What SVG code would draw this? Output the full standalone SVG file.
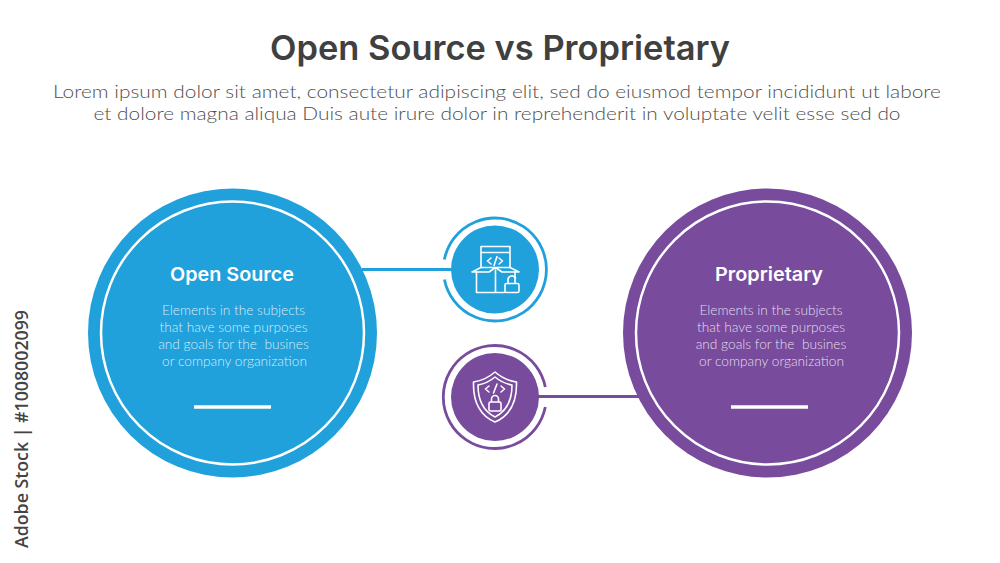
<svg xmlns="http://www.w3.org/2000/svg" width="1000" height="563" viewBox="0 0 1000 563">
<style>
.title{font:600 34px Inter,"Open Sans",sans-serif;fill:#404040;text-anchor:middle}
.sub{font:300 18.5px Lato,"Open Sans",sans-serif;fill:#4f4f4f;text-anchor:middle}
.head{font:600 19px Inter,"Open Sans",sans-serif;fill:#fff;text-anchor:middle}
.body{font:300 13.7px Lato,"Open Sans",sans-serif;fill:#fff;fill-opacity:.82;text-anchor:middle;white-space:pre}
.ring{fill:none;stroke:#fff;stroke-width:2.5}
.ico{fill:none;stroke:#fff;stroke-width:1.6;stroke-linejoin:round;stroke-linecap:round}
.bar{stroke:#fff;stroke-width:3.5}
.blue{fill:#20a1dc}.purple{fill:#784b9d}
.cb{stroke:#20a1dc}.cp{stroke:#784b9d}
.arc{fill:none;stroke-width:2.8}
.link{fill:none;stroke-width:3}
</style>
<rect width="1000" height="563" fill="#fff"/>
<text class="title" x="500" y="60" textLength="460" lengthAdjust="spacingAndGlyphs">Open Source vs Proprietary</text>
<text class="sub" x="497" y="98" textLength="888" lengthAdjust="spacingAndGlyphs">Lorem ipsum dolor sit amet, consectetur adipiscing elit, sed do eiusmod tempor incididunt ut labore</text>
<text class="sub" x="497" y="120" textLength="807" lengthAdjust="spacingAndGlyphs">et dolore magna aliqua Duis aute irure dolor in reprehenderit in voluptate velit esse sed do</text>
<g id="connectors">
<path class="link cb" d="M362 269.500H452"/>
<path class="link cp" d="M538 396.500H640"/>
</g>
<g id="node-open-source">
<circle class="blue" cx="232.500" cy="333" r="144.500"/>
<circle class="ring" cx="232.500" cy="333" r="131.500"/>
<text class="head" x="232" y="281" textLength="124" lengthAdjust="spacingAndGlyphs">Open Source</text>
<text class="body" x="233.500" y="315">Elements in the subjects</text>
<text class="body" x="233.500" y="332">that have some purposes</text>
<text class="body" x="233.500" y="349">and goals for the  busines</text>
<text class="body" x="234.500" y="366">or company organization</text>
<line class="bar" x1="194" y1="407" x2="271" y2="407"/>
</g>
<g id="node-proprietary">
<circle class="purple" cx="767.500" cy="333" r="144.500"/>
<circle class="ring" cx="767.500" cy="333" r="131.500"/>
<text class="head" x="769" y="281" textLength="108" lengthAdjust="spacingAndGlyphs">Proprietary</text>
<text class="body" x="771" y="315">Elements in the subjects</text>
<text class="body" x="771" y="332">that have some purposes</text>
<text class="body" x="771" y="349">and goals for the  busines</text>
<text class="body" x="771.500" y="366">or company organization</text>
<line class="bar" x1="731" y1="407" x2="808" y2="407"/>
</g>
<g id="node-open-icon">
<circle class="blue" cx="495" cy="269.500" r="44"/>
<path class="arc cb" d="M444.400 259.500A51.500 51.500 0 1 1 444.400 279.500"/>
<g class="ico">
<path d="M481 267V246.500H510V267M481 252.500H510"/>
<path d="M491 258l-3.500 3 3.500 3M499 258l3.500 3-3.500 3M497 256.500l-3 9"/>
<path d="M476.500 272V292.500H505M515 283V272M495.500 270V292.500"/>
<path d="M495.500 267.500H481L472 272H489ZM495.500 267.500H510L519 272H502Z"/>
<rect x="505" y="283.500" width="14" height="9" rx="1.500"/>
<path d="M508 283.500V280a4 4 0 0 1 7.500-2"/>
</g>
</g>
<g id="node-prop-icon">
<circle class="purple" cx="495" cy="397" r="44"/>
<path class="arc cp" d="M545.300 387A51.500 51.500 0 1 0 545.300 407"/>
<g class="ico">
<path d="M495 372C488 378 481 381 473.500 382C473 400 479 415 495 422C511 415 517 400 516.500 382C509 381 502 378 495 372Z"/>
<path d="M495 377C489 382 484 384 478 385C478 399 483 411 495 417C507 411 512 399 512 385C506 384 501 382 495 377Z"/>
<path d="M489 386l-3.500 3 3.500 3M501 386l3.500 3-3.500 3M497 384l-3.500 9"/>
<rect x="489" y="402" width="12" height="9" rx="1.500"/>
<path d="M491.500 402V399a3.500 3.500 0 0 1 7 0V402"/>
</g>
</g>
<text transform="translate(28,548) rotate(-90)" font-family="'Open Sans',sans-serif" font-size="18" font-weight="600" fill="#444" textLength="238" lengthAdjust="spacingAndGlyphs">Adobe Stock | #1008002099</text>
</svg>
